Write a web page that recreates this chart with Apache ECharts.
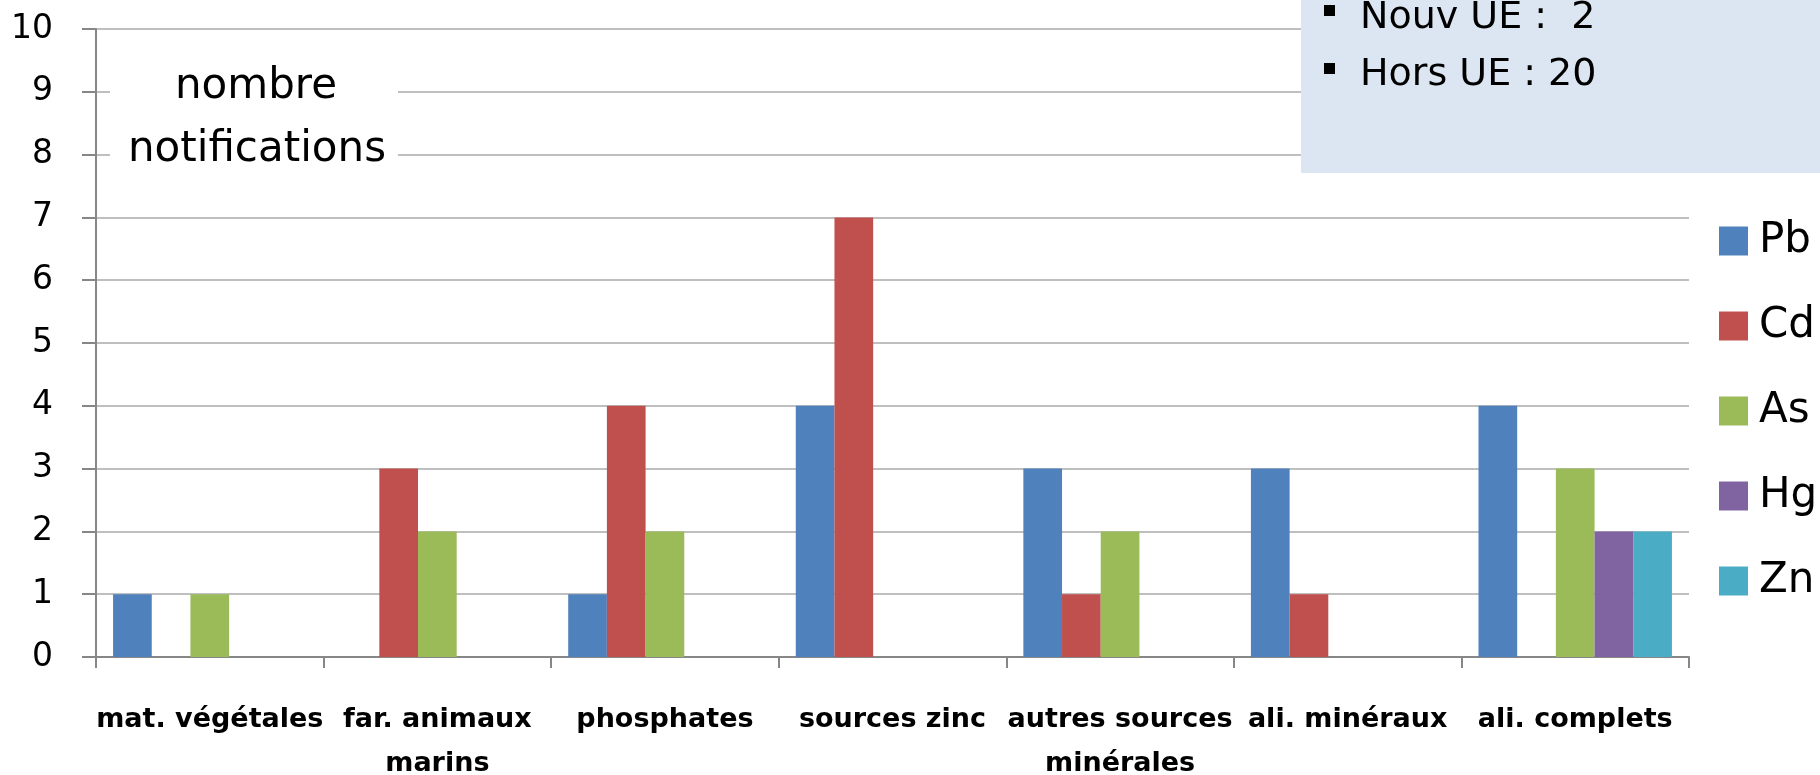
<!DOCTYPE html>
<html>
<head>
<meta charset="utf-8">
<script src="https://cdn.jsdelivr.net/npm/echarts@6/dist/echarts.min.js"></script>
<style>
  html, body { margin: 0; padding: 0; background: #fff; }
  #chart { width: 1820px; height: 775px; }
</style>
</head>
<body>
<div id="chart"></div>
<script>
// Feed categories (x axis)
const categories = [
  'mat. végétales',
  'far. animaux\nmarins',
  'phosphates',
  'sources zinc',
  'autres sources\nminérales',
  'ali. minéraux',
  'ali. complets'
];

// Number of notifications per contaminant
const pb = [1, 0, 1, 4, 3, 3, 4];
const cd = [0, 3, 4, 7, 1, 1, 0];
const as = [1, 2, 2, 0, 2, 0, 3];
const hg = [0, 0, 0, 0, 0, 0, 2];
const zn = [0, 0, 0, 0, 0, 0, 2];

const seriesNames = ['Pb', 'Cd', 'As', 'Hg', 'Zn'];
const seriesValues = [pb, cd, as, hg, zn];
const seriesColors = ['#4F81BD', '#C0504D', '#9BBB59', '#8064A2', '#4BACC6'];

// Origin of notifications
const originLines = ['Nouv UE :  2', 'Hors UE : 20'];
const axisTitleLines = ['nombre', 'notifications'];

const FONT = 'DejaVu Sans';

const chart = echarts.init(document.getElementById('chart'), null, { renderer: 'canvas' });

const series = seriesNames.map((name, i) => ({
  name,
  type: 'bar',
  data: seriesValues[i],
  barGap: '0%',
  barCategoryGap: '15%',
  itemStyle: { color: seriesColors[i] },
  emphasis: { disabled: true }
}));

chart.setOption({
  animation: false,
  textStyle: { fontFamily: FONT },
  grid: { left: 96, right: 131, top: 29, bottom: 118, containLabel: false, outerBoundsMode: 'none' },
  legend: {
    orient: 'vertical',
    left: 1714,
    top: 215,
    icon: 'rect',
    itemWidth: 29,
    itemHeight: 29,
    itemGap: 43,
    selectedMode: false,
    textStyle: { fontFamily: FONT, fontSize: 42, lineHeight: 42, color: '#000', padding: [0, 0, 0, 6] },
    data: seriesNames
  },
  xAxis: {
    type: 'category',
    data: categories,
    axisLine: { lineStyle: { color: '#878787', width: 2 } },
    axisTick: { show: true, length: 11, lineStyle: { color: '#878787', width: 2 } },
    axisLabel: {
      interval: 0,
      margin: 41,
      fontFamily: FONT,
      fontWeight: 'bold',
      fontSize: 27,
      lineHeight: 44,
      color: '#000'
    },
    splitLine: { show: false }
  },
  yAxis: {
    type: 'value',
    min: 0,
    max: 10,
    interval: 1,
    axisLine: { show: true, lineStyle: { color: '#878787', width: 2 } },
    axisTick: { show: true, length: 14, lineStyle: { color: '#878787', width: 2 } },
    axisLabel: { margin: 43, fontFamily: FONT, fontSize: 33, color: '#000' },
    splitLine: { lineStyle: { color: '#BFBFBF', width: 2 } }
  },
  series,
  graphic: [
    // white label box over the upper-left gridlines
    {
      type: 'rect', z: 10,
      shape: { x: 110, y: 45, width: 288, height: 132 },
      style: { fill: '#fff' }
    },
    {
      type: 'text', z: 11, x: 256, y: 87,
      style: { text: axisTitleLines[0], font: '42px "' + FONT + '"', fill: '#000', textAlign: 'center', textVerticalAlign: 'middle' }
    },
    {
      type: 'text', z: 11, x: 257, y: 150,
      style: { text: axisTitleLines[1], font: '42px "' + FONT + '"', fill: '#000', textAlign: 'center', textVerticalAlign: 'middle' }
    },
    // origin panel top right
    {
      type: 'rect', z: 10,
      shape: { x: 1301, y: 0, width: 519, height: 173 },
      style: { fill: '#DCE6F2' }
    },
    { type: 'rect', z: 11, shape: { x: 1324, y: 5, width: 11, height: 11 }, style: { fill: '#000' } },
    { type: 'rect', z: 11, shape: { x: 1324, y: 63, width: 11, height: 11 }, style: { fill: '#000' } },
    {
      type: 'text', z: 11, x: 1360, y: 18,
      style: { text: originLines[0], font: '38px "' + FONT + '"', fill: '#000', textAlign: 'left', textVerticalAlign: 'middle' }
    },
    {
      type: 'text', z: 11, x: 1360, y: 75,
      style: { text: originLines[1], font: '38px "' + FONT + '"', fill: '#000', textAlign: 'left', textVerticalAlign: 'middle' }
    }
  ]
});
</script>
</body>
</html>
